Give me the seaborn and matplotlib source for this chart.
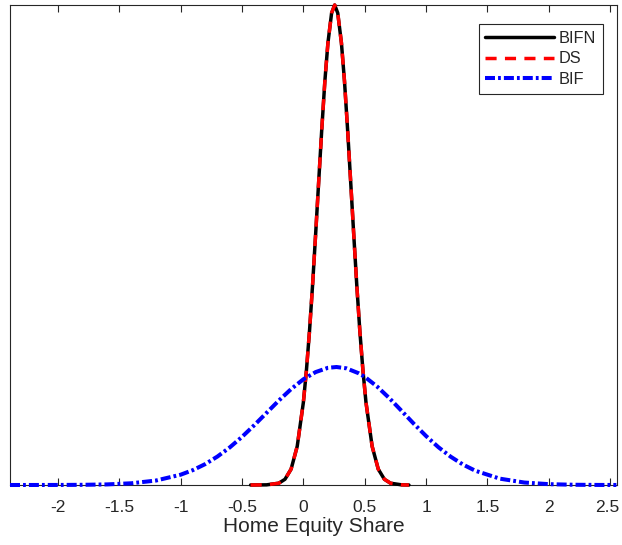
import matplotlib
matplotlib.use("Agg")
import matplotlib.pyplot as plt
import matplotlib.transforms as mtransforms
import seaborn as sns
import pandas as pd

# Narrow density (BIFN and DS overlap)
x_narrow = [-0.43, -0.3, -0.2, -0.15, -0.1, -0.05, 0.0, 0.025, 0.05, 0.075, 0.1, 0.125, 0.15,
            0.175, 0.2, 0.23, 0.255, 0.28, 0.31, 0.335, 0.36, 0.385, 0.41, 0.435, 0.46, 0.485,
            0.51, 0.56, 0.61, 0.66, 0.71, 0.8, 0.86]
y_bifn = [0.0, 0.001, 0.011, 0.035, 0.097, 0.237, 0.505, 0.702, 0.941, 1.222, 1.534, 1.857, 2.175,
          2.467, 2.701, 2.884, 2.933, 2.884, 2.701, 2.467, 2.175, 1.857, 1.534, 1.222, 0.941, 0.702,
          0.505, 0.237, 0.097, 0.035, 0.011, 0.001, 0.0]
y_ds = [0.0, 0.001, 0.011, 0.035, 0.097, 0.237, 0.505, 0.702, 0.941, 1.222, 1.534, 1.857, 2.175,
        2.467, 2.701, 2.884, 2.933, 2.884, 2.701, 2.467, 2.175, 1.857, 1.534, 1.222, 0.941, 0.702,
        0.505, 0.237, 0.097, 0.035, 0.011, 0.001, 0.0]

# Wide density (BIF)
x_bif = [-2.39, -2.2, -2.0, -1.8, -1.6, -1.4, -1.2, -1.0, -0.9, -0.8, -0.7, -0.6, -0.5, -0.4,
         -0.2, -0.1, 0.0, 0.1, 0.2, 0.27, 0.35, 0.45, 0.5, 0.6, 0.7, 0.8, 0.9, 1.0, 1.1, 1.2,
         1.3, 1.4, 1.6, 1.8, 2.0, 2.2, 2.4, 2.55]
y_bif = [0.0, 0.0001, 0.0003, 0.0011, 0.0036, 0.0106, 0.0274, 0.0629, 0.091, 0.1276, 0.174,
         0.2295, 0.294, 0.3656, 0.516, 0.586, 0.646, 0.690, 0.716, 0.721, 0.713, 0.683, 0.661,
         0.602, 0.531, 0.453, 0.374, 0.299, 0.231, 0.173, 0.125, 0.0874, 0.0388, 0.0151,
         0.0051, 0.0015, 0.0004, 0.0001]

xticks = [-2, -1.5, -1, -0.5, 0, 0.5, 1, 1.5, 2, 2.5]
xtick_labels = ["-2", "-1.5", "-1", "-0.5", "0", "0.5", "1", "1.5", "2", "2.5"]

sns.set_style("white")
plt.rcParams["font.family"] = ["Liberation Sans", "DejaVu Sans"]
plt.rcParams["lines.scale_dashes"] = False

fig = plt.figure(figsize=(6.22, 5.45), dpi=100)
ax = fig.add_axes([10 / 622, 1 - 485 / 545, 607 / 622, 480 / 545])

sns.lineplot(x=x_narrow, y=y_bifn, ax=ax, color="black", linewidth=2.5, label="BIFN",
             linestyle="-", clip_on=False)
sns.lineplot(x=x_narrow, y=y_ds, ax=ax, color="red", linewidth=2.5, label="DS",
             linestyle=(0, (8, 6)), clip_on=False)
sns.lineplot(x=x_bif, y=y_bif, ax=ax, color="blue", linewidth=2.9, label="BIF",
             linestyle=(0, (7.2, 2.2, 2, 2.2)), clip_on=False)

ax.set_xlim(-2.39, 2.555)
ax.set_ylim(0, 2.933)
ax.set_xticks(xticks)
ax.set_xticklabels(xtick_labels)
ax.set_yticks([])
ax.tick_params(axis="x", direction="in", length=5, width=0.8, top=True, bottom=True,
               labelsize=12.5, colors="#262626", pad=10.5)
for s in ax.spines.values():
    s.set_visible(True)
    s.set_color("#262626")
    s.set_linewidth(0.8)
    s.set_zorder(0.5)
ax.set_xlabel("Home Equity Share", fontsize=15, color="#262626", labelpad=2)
ax.set_ylabel("")

# nudge the last tick label slightly left so it stays inside the figure
last = ax.get_xticklabels()[-1]
last.set_transform(last.get_transform() + mtransforms.ScaledTranslation(-3 / 100, 0, fig.dpi_scale_trans))

leg = ax.legend(loc="upper right", bbox_to_anchor=(0.977, 0.960), borderaxespad=0,
                fancybox=False, framealpha=1, edgecolor="#262626", fontsize=11.8,
                handlelength=4.2, handletextpad=0.3, labelspacing=0.35, borderpad=0.4)
leg.get_frame().set_linewidth(0.8)

fig.savefig("out.png", dpi=100)
